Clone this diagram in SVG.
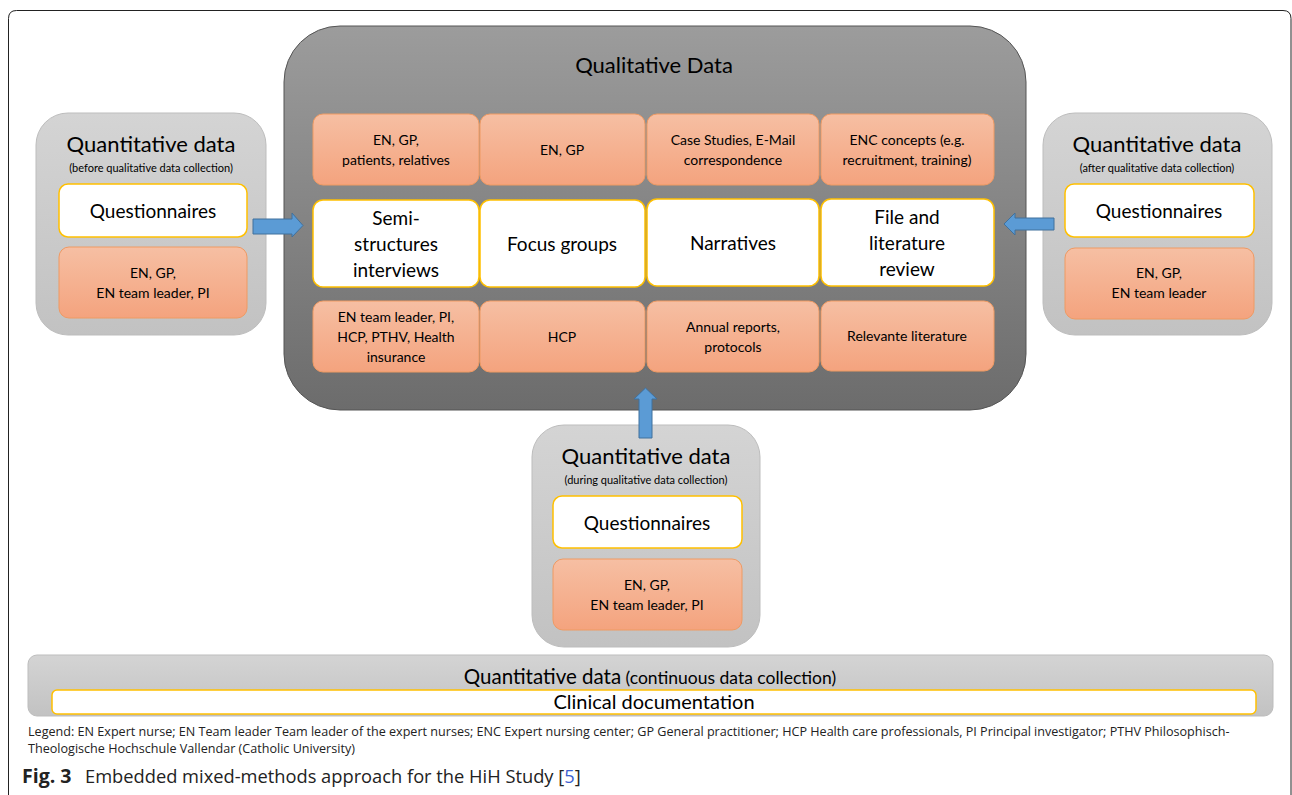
<svg xmlns="http://www.w3.org/2000/svg" width="1292" height="795" viewBox="0 0 1292 795">
<defs>
<linearGradient id="gDark" x1="0" y1="0" x2="0" y2="1"><stop offset="0" stop-color="#9c9c9c"/><stop offset="1" stop-color="#6c6c6c"/></linearGradient>
<linearGradient id="gLight" x1="0" y1="0" x2="0" y2="1"><stop offset="0" stop-color="#d4d4d4"/><stop offset="1" stop-color="#c2c2c2"/></linearGradient>
<linearGradient id="gOr" x1="0" y1="0" x2="0" y2="1"><stop offset="0" stop-color="#f6bfa3"/><stop offset="1" stop-color="#f4a37e"/></linearGradient>
<style>
.t{font-family:Lato,"Liberation Sans",sans-serif;fill:#000;text-anchor:middle}
.h{font-size:22px}
.s{font-size:11px}
.q{font-size:19px}
.o{font-size:14px}
.light{fill:url(#gLight);stroke:#bdbdbd;stroke-width:1}
.or{fill:url(#gOr);stroke:#ef9a63;stroke-width:1}
.wh{fill:#fff;stroke:#ffc000;stroke-width:1.5}
.arr{fill:#5b9bd5;stroke:#41719c;stroke-width:1}
.cap{font-family:"Open Sans","Noto Sans",sans-serif;fill:#222}
</style>
</defs>
<rect width="1292" height="795" fill="#fff"/>
<path d="M8.5 795 V18.5 Q8.5 10.5 16.5 10.5 H1283 Q1291 10.5 1291 18.5 V795" fill="none" stroke="#222" stroke-width="1"/>

<g id="qualitative">
<rect x="284" y="26" width="742" height="384" rx="56" fill="url(#gDark)" stroke="#555" stroke-width="1"/>
<text class="t h" x="654" y="73">Qualitative Data</text>
</g>

<g id="r1c1"><rect class="or" x="313" y="114" width="166" height="71" rx="10"/><text class="t o" x="396" y="145">EN, GP,</text><text class="t o" x="396" y="165">patients, relatives</text></g>
<g id="r1c2"><rect class="or" x="480" y="114" width="165" height="71" rx="10"/><text class="t o" x="562" y="155">EN, GP</text></g>
<g id="r1c3"><rect class="or" x="647" y="114" width="172" height="71" rx="10"/><text class="t o" x="733" y="145">Case Studies, E-Mail</text><text class="t o" x="733" y="165">correspondence</text></g>
<g id="r1c4"><rect class="or" x="821" y="114" width="173" height="71" rx="10"/><text class="t o" x="907" y="145">ENC concepts (e.g.</text><text class="t o" x="907" y="165">recruitment, training)</text></g>

<g id="r2c1"><rect class="wh" x="313" y="200" width="166" height="87" rx="10"/><text class="t q" x="396" y="225">Semi-</text><text class="t q" x="396" y="251">structures</text><text class="t q" x="396" y="277">interviews</text></g>
<g id="r2c2"><rect class="wh" x="480" y="200" width="165" height="87" rx="10"/><text class="t q" x="562" y="251">Focus groups</text></g>
<g id="r2c3"><rect class="wh" x="647" y="199" width="172" height="87" rx="10"/><text class="t q" x="733" y="250">Narratives</text></g>
<g id="r2c4"><rect class="wh" x="821" y="199" width="173" height="87" rx="10"/><text class="t q" x="907" y="224">File and</text><text class="t q" x="907" y="250">literature</text><text class="t q" x="907" y="276">review</text></g>

<g id="r3c1"><rect class="or" x="313" y="301" width="166" height="71" rx="10"/><text class="t o" x="396" y="322">EN team leader, PI,</text><text class="t o" x="396" y="342">HCP, PTHV, Health</text><text class="t o" x="396" y="362">insurance</text></g>
<g id="r3c2"><rect class="or" x="480" y="301" width="165" height="71" rx="10"/><text class="t o" x="562" y="342">HCP</text></g>
<g id="r3c3"><rect class="or" x="647" y="301" width="172" height="71" rx="10"/><text class="t o" x="733" y="332">Annual reports,</text><text class="t o" x="733" y="352">protocols</text></g>
<g id="r3c4"><rect class="or" x="821" y="301" width="173" height="70" rx="10"/><text class="t o" x="907" y="341">Relevante literature</text></g>

<g id="before">
<rect class="light" x="36" y="113" width="230" height="222" rx="32"/>
<text class="t h" x="151" y="152">Quantitative data</text>
<text class="t s" x="151" y="172">(before qualitative data collection)</text>
<rect class="wh" x="59" y="184" width="188" height="53" rx="9"/>
<text class="t q" x="153" y="218">Questionnaires</text>
<rect class="or" x="59" y="247" width="188" height="71" rx="10"/>
<text class="t o" x="153" y="278">EN, GP,</text>
<text class="t o" x="153" y="298">EN team leader, PI</text>
</g>

<g id="after">
<rect class="light" x="1043" y="113" width="229" height="222" rx="32"/>
<text class="t h" x="1157" y="152">Quantitative data</text>
<text class="t s" x="1157" y="172">(after qualitative data collection)</text>
<rect class="wh" x="1065" y="184" width="189" height="53" rx="9"/>
<text class="t q" x="1159" y="218">Questionnaires</text>
<rect class="or" x="1065" y="248" width="189" height="71" rx="10"/>
<text class="t o" x="1159" y="278">EN, GP,</text>
<text class="t o" x="1159" y="298">EN team leader</text>
</g>

<g id="during">
<rect class="light" x="532" y="425" width="228" height="222" rx="32"/>
<text class="t h" x="646" y="464">Quantitative data</text>
<text class="t s" x="646" y="484">(during qualitative data collection)</text>
<rect class="wh" x="553" y="496" width="189" height="52" rx="9"/>
<text class="t q" x="647" y="530">Questionnaires</text>
<rect class="or" x="553" y="559" width="189" height="71" rx="10"/>
<text class="t o" x="647" y="590">EN, GP,</text>
<text class="t o" x="647" y="610">EN team leader, PI</text>
</g>

<g id="continuous">
<rect class="light" x="28" y="655" width="1245" height="61" rx="9"/>
<text class="t" x="650" y="684"><tspan font-size="20.5px">Quantitative data</tspan><tspan font-size="17.5px"> (continuous data collection)</tspan></text>
<rect class="wh" x="52" y="690" width="1204" height="24" rx="5"/>
<text class="t" font-size="20px" x="654" y="709">Clinical documentation</text>
</g>

<g id="connectors">
<path class="arr" d="M253 219 H292 V213 L303 225.5 L292 237 V234 H253 Z"/>
<path class="arr" d="M1054 218 H1015 V213 L1004 224 L1015 235 V230 H1054 Z"/>
<path class="arr" d="M639 438 V399 H634 L645.5 388 L657 399 H652 V438 Z"/>
</g>

<g id="legend">
<text class="cap" x="28" y="736" font-size="12.6">Legend: EN Expert nurse; EN Team leader Team leader of the expert nurses; ENC Expert nursing center; GP General practitioner; HCP Health care professionals, PI Principal investigator; PTHV Philosophisch-</text>
<text class="cap" x="28" y="753" font-size="12.6">Theologische Hochschule Vallendar (Catholic University)</text>
<text class="cap" x="22" y="783" font-size="19.5" font-weight="bold">Fig. 3</text>
<text class="cap" x="85" y="783" font-size="18.3">Embedded mixed-methods approach for the HiH Study [<tspan fill="#3c5fd1">5</tspan>]</text>
</g>
</svg>
